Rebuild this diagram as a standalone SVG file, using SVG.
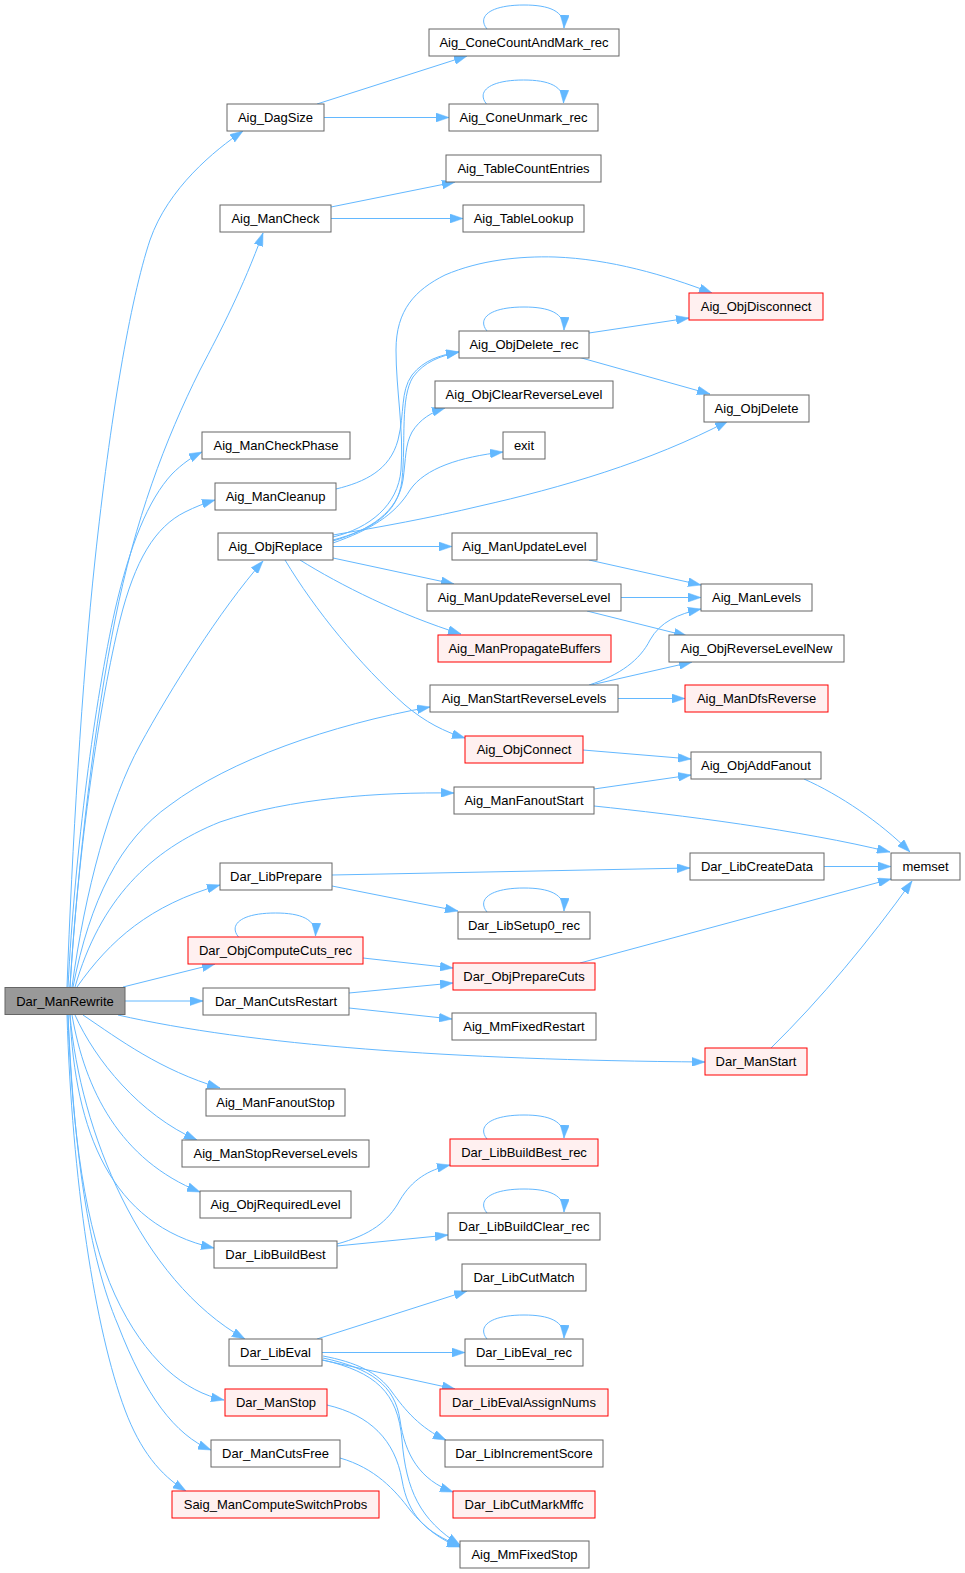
<svg xmlns="http://www.w3.org/2000/svg" width="965" height="1573" viewBox="0 0 965 1573">
<style>
.n rect{fill:#fff;stroke:#666;stroke-width:1}
.r rect{fill:#FFF0F0;stroke:#F00;stroke-width:1}
.root rect{fill:#999;stroke:#666;stroke-width:1}
text{font-family:"Liberation Sans",Arial,Helvetica,sans-serif;font-size:13px;fill:#000;text-anchor:middle}
.e path{fill:none;stroke:#63B8FF;stroke-width:1;marker-end:url(#ah)}
</style>
<defs>
<marker id="ah" viewBox="0 0 13 9" refX="13" refY="4.5" markerWidth="13" markerHeight="9" markerUnits="userSpaceOnUse" orient="auto">
<path d="M0,0 L13,4.5 L0,9 z" fill="#63B8FF" stroke="#63B8FF" stroke-width="0.5"/>
</marker>
</defs>
<rect width="965" height="1573" fill="#fff"/>
<g id="edges" class="e">
<path d="M67,987 C72,850 82,680 95,560 C110,420 130,300 150,240 C168,188 215,150 243,131"/>
<path d="M70,987 C78,860 95,720 115,620 C135,520 165,440 200,370 C222,328 242,290 263,233"/>
<path d="M68,987 C75,850 95,700 115,610 C130,545 148,500 172,474 C182,464 192,457 202,452"/>
<path d="M70,987 C78,850 100,700 120,620 C135,560 155,527 185,512 C195,507 205,503 215,500"/>
<path d="M72,987 C85,890 110,800 140,745 C170,690 220,610 263,561"/>
<path d="M73,987 C90,900 120,840 170,805 C230,760 330,725 430,707"/>
<path d="M75,987 C100,900 150,850 220,822 C290,798 380,792 454,793"/>
<path d="M77,987 C110,940 150,905 220,885"/>
<path d="M123,987 L215,964"/>
<path d="M125,1001 L203,1001"/>
<path d="M118,1015 C250,1045 450,1060 705,1062"/>
<path d="M83,1015 C120,1040 160,1070 220,1088"/>
<path d="M75,1015 C95,1060 140,1115 197,1140"/>
<path d="M72,1015 C85,1090 120,1160 200,1192"/>
<path d="M70,1015 C75,1130 110,1225 214,1248"/>
<path d="M70,1015 C80,1130 140,1280 245,1339"/>
<path d="M68,1015 C72,1130 85,1230 115,1295 C145,1360 185,1392 224,1400"/>
<path d="M68,1015 C74,1150 88,1255 118,1325 C145,1395 175,1435 211,1450"/>
<path d="M67,1015 C72,1180 95,1330 125,1410 C140,1450 160,1475 186,1491"/>
<path d="M317,104 L467,56"/>
<path d="M324,117.5 L449,117.5"/>
<path d="M331,207 L455,182"/>
<path d="M331,218.5 L463,218.5"/>
<path d="M589,333 L689,318"/>
<path d="M578,357 L710,394"/>
<path d="M336,489 C365,482 390,470 398,440 C405,412 400,392 412,375 C424,360 440,355 459,352"/>
<path d="M333,537 C370,528 398,505 401,470 C404,430 396,390 396,350 C396,310 415,290 445,275 C480,260 520,256 555,257 C610,259 665,275 712,293"/>
<path d="M333,540 C370,530 398,515 402,480 C406,440 400,398 413,377 C424,362 440,356 459,352"/>
<path d="M333,541 C370,530 398,512 403,480 C406,458 405,445 412,432 C420,419 432,412 445,408"/>
<path d="M333,543 C370,530 395,515 410,490 C425,468 460,457 503,452"/>
<path d="M333,535 C380,527 430,518 480,506 C560,488 650,462 728,421"/>
<path d="M333,546.5 L452,546.5"/>
<path d="M333,558 L454,584"/>
<path d="M300,560 C340,585 400,615 461,634"/>
<path d="M285,560 C315,610 360,665 405,705 C425,722 445,732 465,738"/>
<path d="M589,560 L701,585"/>
<path d="M621,597.5 L701,597.5"/>
<path d="M587,611 L687,636"/>
<path d="M589,685 C620,675 640,660 650,640 C660,622 678,614 701,609"/>
<path d="M591,685 L692,662"/>
<path d="M618,698.5 L685,698.5"/>
<path d="M583,750 L691,759"/>
<path d="M594,789 L691,775"/>
<path d="M594,806 C680,815 800,830 890,852"/>
<path d="M804,779 C840,795 880,822 910,852"/>
<path d="M824,866.5 L891,866.5"/>
<path d="M332,875 L690,868"/>
<path d="M332,886 L458,911"/>
<path d="M580,963 L891,879"/>
<path d="M363,958 L453,968"/>
<path d="M349,993 L453,983"/>
<path d="M349,1008 L452,1019"/>
<path d="M771,1048 C820,1000 870,940 912,881"/>
<path d="M337,1244 C370,1235 388,1222 400,1200 C412,1180 428,1170 450,1165"/>
<path d="M337,1246 L448,1235"/>
<path d="M317,1339 L467,1291"/>
<path d="M322,1352.5 L465,1352.5"/>
<path d="M322,1360 L455,1389"/>
<path d="M323,1356 C355,1362 378,1372 392,1392 C405,1410 420,1428 446,1440"/>
<path d="M323,1358 C370,1368 395,1385 400,1420 C405,1455 420,1480 453,1492"/>
<path d="M323,1360 C375,1372 398,1392 402,1440 C406,1490 420,1520 460,1545"/>
<path d="M327,1405 C370,1415 395,1440 402,1480 C408,1515 425,1532 460,1546"/>
<path d="M340,1458 C375,1468 395,1490 410,1510 C425,1528 440,1540 460,1547"/>
<path d="M487,29 C477,17 489,5 524,5 C549,5 565,11 564,28"/>
<path d="M486.5,104 C476.5,92 488.5,80 523.5,80 C548.5,80 564.5,86 563.5,103"/>
<path d="M487,331 C477,319 489,307 524,307 C549,307 565,313 564,330"/>
<path d="M487,912 C477,900 489,888 524,888 C549,888 565,894 564,911"/>
<path d="M238.5,937 C228.5,925 240.5,913 275.5,913 C300.5,913 316.5,919 315.5,936"/>
<path d="M487,1139 C477,1127 489,1115 524,1115 C549,1115 565,1121 564,1138"/>
<path d="M487,1213 C477,1201 489,1189 524,1189 C549,1189 565,1195 564,1212"/>
<path d="M487,1339 C477,1327 489,1315 524,1315 C549,1315 565,1321 564,1338"/>
</g>
<g id="Dar_ManRewrite" class="root"><rect x="5" y="987.5" width="120" height="27"/><text x="65" y="1005.5">Dar_ManRewrite</text></g>
<g id="Aig_DagSize" class="n"><rect x="227" y="104" width="97" height="27"/><text x="275.5" y="122">Aig_DagSize</text></g>
<g id="Aig_ConeCountAndMark_rec" class="n"><rect x="429" y="29" width="190" height="27"/><text x="524" y="47">Aig_ConeCountAndMark_rec</text></g>
<g id="Aig_ConeUnmark_rec" class="n"><rect x="449" y="104" width="149" height="27"/><text x="523.5" y="122">Aig_ConeUnmark_rec</text></g>
<g id="Aig_ManCheck" class="n"><rect x="220" y="205" width="111" height="27"/><text x="275.5" y="223">Aig_ManCheck</text></g>
<g id="Aig_TableCountEntries" class="n"><rect x="446" y="155" width="155" height="27"/><text x="523.5" y="173">Aig_TableCountEntries</text></g>
<g id="Aig_TableLookup" class="n"><rect x="463" y="205" width="121" height="27"/><text x="523.5" y="223">Aig_TableLookup</text></g>
<g id="Aig_ObjDisconnect" class="r"><rect x="689" y="293" width="134" height="27"/><text x="756" y="311">Aig_ObjDisconnect</text></g>
<g id="Aig_ObjDelete_rec" class="n"><rect x="459" y="331" width="130" height="27"/><text x="524" y="349">Aig_ObjDelete_rec</text></g>
<g id="Aig_ObjClearReverseLevel" class="n"><rect x="435" y="381" width="178" height="27"/><text x="524" y="399">Aig_ObjClearReverseLevel</text></g>
<g id="Aig_ManCheckPhase" class="n"><rect x="202" y="432" width="148" height="27"/><text x="276" y="450">Aig_ManCheckPhase</text></g>
<g id="exit" class="n"><rect x="503" y="432" width="42" height="27"/><text x="524" y="450">exit</text></g>
<g id="Aig_ObjDelete" class="n"><rect x="704" y="395" width="105" height="27"/><text x="756.5" y="413">Aig_ObjDelete</text></g>
<g id="Aig_ManCleanup" class="n"><rect x="215" y="483" width="121" height="27"/><text x="275.5" y="501">Aig_ManCleanup</text></g>
<g id="Aig_ObjReplace" class="n"><rect x="218" y="533" width="115" height="27"/><text x="275.5" y="551">Aig_ObjReplace</text></g>
<g id="Aig_ManUpdateLevel" class="n"><rect x="452" y="533" width="145" height="27"/><text x="524.5" y="551">Aig_ManUpdateLevel</text></g>
<g id="Aig_ManUpdateReverseLevel" class="n"><rect x="427" y="584" width="194" height="27"/><text x="524" y="602">Aig_ManUpdateReverseLevel</text></g>
<g id="Aig_ManLevels" class="n"><rect x="701" y="584" width="111" height="27"/><text x="756.5" y="602">Aig_ManLevels</text></g>
<g id="Aig_ManPropagateBuffers" class="r"><rect x="438" y="635" width="173" height="27"/><text x="524.5" y="653">Aig_ManPropagateBuffers</text></g>
<g id="Aig_ObjReverseLevelNew" class="n"><rect x="669" y="635" width="175" height="27"/><text x="756.5" y="653">Aig_ObjReverseLevelNew</text></g>
<g id="Aig_ManStartReverseLevels" class="n"><rect x="430" y="685" width="188" height="27"/><text x="524" y="703">Aig_ManStartReverseLevels</text></g>
<g id="Aig_ManDfsReverse" class="r"><rect x="685" y="685" width="143" height="27"/><text x="756.5" y="703">Aig_ManDfsReverse</text></g>
<g id="Aig_ObjConnect" class="r"><rect x="465" y="736" width="118" height="27"/><text x="524" y="754">Aig_ObjConnect</text></g>
<g id="Aig_ObjAddFanout" class="n"><rect x="691" y="752" width="130" height="27"/><text x="756" y="770">Aig_ObjAddFanout</text></g>
<g id="Aig_ManFanoutStart" class="n"><rect x="454" y="787" width="140" height="27"/><text x="524" y="805">Aig_ManFanoutStart</text></g>
<g id="memset" class="n"><rect x="891" y="853" width="69" height="27"/><text x="925.5" y="871">memset</text></g>
<g id="Dar_LibCreateData" class="n"><rect x="690" y="853" width="134" height="27"/><text x="757" y="871">Dar_LibCreateData</text></g>
<g id="Dar_LibPrepare" class="n"><rect x="220" y="863" width="112" height="27"/><text x="276" y="881">Dar_LibPrepare</text></g>
<g id="Dar_LibSetup0_rec" class="n"><rect x="458" y="912" width="132" height="27"/><text x="524" y="930">Dar_LibSetup0_rec</text></g>
<g id="Dar_ObjComputeCuts_rec" class="r"><rect x="188" y="937" width="175" height="27"/><text x="275.5" y="955">Dar_ObjComputeCuts_rec</text></g>
<g id="Dar_ObjPrepareCuts" class="r"><rect x="453" y="963" width="142" height="27"/><text x="524" y="981">Dar_ObjPrepareCuts</text></g>
<g id="Dar_ManCutsRestart" class="n"><rect x="203" y="988" width="146" height="27"/><text x="276" y="1006">Dar_ManCutsRestart</text></g>
<g id="Aig_MmFixedRestart" class="n"><rect x="452" y="1013" width="144" height="27"/><text x="524" y="1031">Aig_MmFixedRestart</text></g>
<g id="Dar_ManStart" class="r"><rect x="705" y="1048" width="102" height="27"/><text x="756" y="1066">Dar_ManStart</text></g>
<g id="Aig_ManFanoutStop" class="n"><rect x="206" y="1089" width="139" height="27"/><text x="275.5" y="1107">Aig_ManFanoutStop</text></g>
<g id="Aig_ManStopReverseLevels" class="n"><rect x="182" y="1140" width="187" height="27"/><text x="275.5" y="1158">Aig_ManStopReverseLevels</text></g>
<g id="Dar_LibBuildBest_rec" class="r"><rect x="450" y="1139" width="148" height="27"/><text x="524" y="1157">Dar_LibBuildBest_rec</text></g>
<g id="Aig_ObjRequiredLevel" class="n"><rect x="200" y="1191" width="151" height="27"/><text x="275.5" y="1209">Aig_ObjRequiredLevel</text></g>
<g id="Dar_LibBuildClear_rec" class="n"><rect x="448" y="1213" width="152" height="27"/><text x="524" y="1231">Dar_LibBuildClear_rec</text></g>
<g id="Dar_LibBuildBest" class="n"><rect x="214" y="1241" width="123" height="27"/><text x="275.5" y="1259">Dar_LibBuildBest</text></g>
<g id="Dar_LibCutMatch" class="n"><rect x="462" y="1264" width="124" height="27"/><text x="524" y="1282">Dar_LibCutMatch</text></g>
<g id="Dar_LibEval" class="n"><rect x="229" y="1339" width="93" height="27"/><text x="275.5" y="1357">Dar_LibEval</text></g>
<g id="Dar_LibEval_rec" class="n"><rect x="465" y="1339" width="118" height="27"/><text x="524" y="1357">Dar_LibEval_rec</text></g>
<g id="Dar_ManStop" class="r"><rect x="225" y="1389" width="102" height="27"/><text x="276" y="1407">Dar_ManStop</text></g>
<g id="Dar_LibEvalAssignNums" class="r"><rect x="440" y="1389" width="168" height="27"/><text x="524" y="1407">Dar_LibEvalAssignNums</text></g>
<g id="Dar_ManCutsFree" class="n"><rect x="211" y="1440" width="129" height="27"/><text x="275.5" y="1458">Dar_ManCutsFree</text></g>
<g id="Dar_LibIncrementScore" class="n"><rect x="445" y="1440" width="158" height="27"/><text x="524" y="1458">Dar_LibIncrementScore</text></g>
<g id="Saig_ManComputeSwitchProbs" class="r"><rect x="172" y="1491" width="207" height="27"/><text x="275.5" y="1509">Saig_ManComputeSwitchProbs</text></g>
<g id="Dar_LibCutMarkMffc" class="r"><rect x="453" y="1491" width="142" height="27"/><text x="524" y="1509">Dar_LibCutMarkMffc</text></g>
<g id="Aig_MmFixedStop" class="n"><rect x="460" y="1541" width="129" height="27"/><text x="524.5" y="1559">Aig_MmFixedStop</text></g>
</svg>
